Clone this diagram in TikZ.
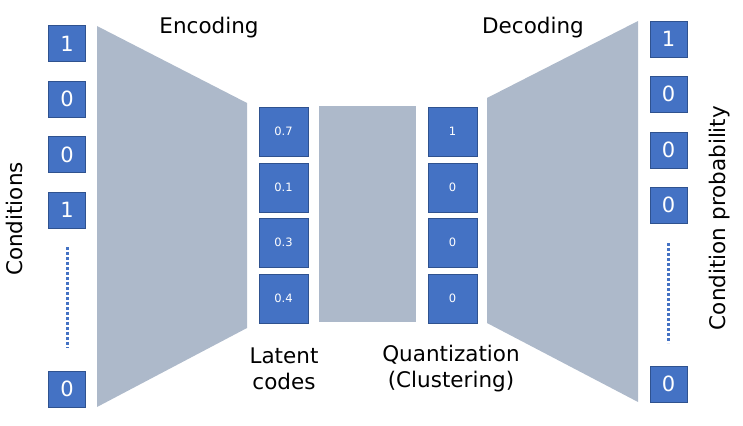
\documentclass[tikz,border=0pt]{standalone}
\usepackage{fontspec}
\setmainfont{DejaVu Sans}
\definecolor{boxblue}{HTML}{4472C4}
\definecolor{boxedge}{HTML}{2F528F}
\definecolor{grayfill}{HTML}{ADB9CA}
\begin{document}
\begin{tikzpicture}[x=1pt,y=-1pt,
  cbox/.style={draw=boxedge, fill=boxblue, text=white, minimum width=37pt, minimum height=36pt, inner sep=0pt, line width=0.8pt, font=\fontsize{21}{21}\selectfont},
  lbox/.style={draw=boxedge, fill=boxblue, text=white, minimum width=49pt, minimum height=49pt, inner sep=0pt, line width=0.8pt, font=\fontsize{11.5}{11.5}\selectfont},
  lbl/.style={font=\fontsize{21.5}{26}\selectfont, align=center, inner sep=0pt},
  dotline/.style={draw=boxblue, line width=3pt, dash pattern=on 2.5pt off 2.5pt}]
\useasboundingbox (0,0) rectangle (743,425);
% trapezoids
\fill[grayfill] (97,26) -- (247,103) -- (247,328) -- (97,407) -- cycle;
\fill[grayfill] (319,106) rectangle (416,322);
\fill[grayfill] (487,98) -- (638,21) -- (638,402) -- (487,323) -- cycle;
% left boxes
\node[cbox] (l1) at (67,43.5) {1};
\node[cbox] (l2) at (67,99) {0};
\node[cbox] (l3) at (67,154.5) {0};
\node[cbox] (l4) at (67,210) {1};
\node[cbox] (l5) at (67,389) {0};
\coordinate (ld1) at (67,247);
\coordinate (ld2) at (67,348);
\draw[dotline] (ld1) -- (ld2);
% right boxes
\node[cbox] (r1) at (668.5,39) {1};
\node[cbox] (r2) at (668.5,94) {0};
\node[cbox] (r3) at (668.5,150) {0};
\node[cbox] (r4) at (668.5,205) {0};
\node[cbox] (r5) at (668.5,384) {0};
\coordinate (rd1) at (668.5,243);
\coordinate (rd2) at (668.5,343);
\draw[dotline] (rd1) -- (rd2);
% latent boxes
\node[lbox] (a1) at (283.5,131.5) {0.7};
\node[lbox] (a2) at (283.5,187.5) {0.1};
\node[lbox] (a3) at (283.5,242.5) {0.3};
\node[lbox] (a4) at (283.5,298.5) {0.4};
% quantized boxes
\node[lbox] (q1) at (452.5,131.5) {1};
\node[lbox] (q2) at (452.5,187.5) {0};
\node[lbox] (q3) at (452.5,242.5) {0};
\node[lbox] (q4) at (452.5,298.5) {0};
% labels
\node[lbl] (enc) at (209,28) {Encoding};
\node[lbl] (dec) at (533,28) {Decoding};
\node[lbl] (lat) at (284,369) {Latent\\codes};
\node[lbl] (qua) at (451,369) {Quantization\\(Clustering)};
\node[lbl, rotate=90] (cond) at (14,219) {Conditions};
\node[lbl, rotate=90] (cprob) at (720,218) {Condition probability};
\end{tikzpicture}
\end{document}
